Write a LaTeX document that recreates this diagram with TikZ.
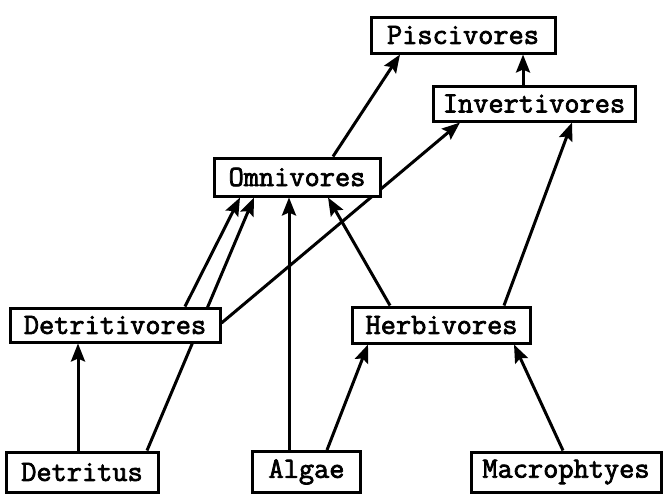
\documentclass[tikz,border=0pt]{standalone}
\usepackage{fontspec}
\newfontfamily\boxfont[FakeBold=2.5]{Latin Modern Mono}
\usetikzlibrary{arrows.meta,backgrounds}
\begin{document}
\begin{tikzpicture}[x=1pt,y=-1pt,
  box/.style={draw, line width=3pt, fill=white, inner sep=0pt,
    font=\fontsize{29.5}{31}\selectfont\boxfont},
  link/.style={line width=3pt, -{Stealth[length=18pt,width=14pt,inset=3pt]}}]
\useasboundingbox (0,0) rectangle (663,496);
\node[box, minimum width=184pt, minimum height=36pt] (pisc) at (463,35) {Piscivores};
\node[box, minimum width=202pt, minimum height=35pt] (inv) at (534,103.5) {Invertivores};
\node[box, minimum width=166pt, minimum height=38pt] (omni) at (297,177) {Omnivores};
\node[box, minimum width=210pt, minimum height=34pt] (detv) at (115,325) {Detritivores};
\node[box, minimum width=178pt, minimum height=36pt] (herb) at (441.5,325) {Herbivores};
\node[box, minimum width=152pt, minimum height=40pt] (detr) at (82,472) {Detritus};
\node[box, minimum width=108pt, minimum height=41pt] (algae) at (306.5,472) {Algae};
\node[box, minimum width=190pt, minimum height=40pt] (macro) at (566,472) {Macrophtyes};
\begin{scope}[on background layer]
\draw[link] (78,0 |- detr.north) -- (78,0 |- detv.south);
\draw[link] (147,0 |- detr.north) -- (254,0 |- omni.south);
\draw[link] (185,0 |- detv.north) -- (240,0 |- omni.south);
\draw[link] (289,0 |- algae.north) -- (289,0 |- omni.south);
\draw[link] (390,0 |- herb.north) -- (328,0 |- omni.south);
\draw[link] (327,0 |- algae.north) -- (368,0 |- herb.south);
\draw[link] (563,0 |- macro.north) -- (514,0 |- herb.south);
\draw[link] (504,0 |- herb.north) -- (572,0 |- inv.south);
\draw[link] ([yshift=2pt]detv.east) -- (460,0 |- inv.south);
\draw[link] (333,0 |- omni.north) -- (400,0 |- pisc.south);
\draw[link] (523,0 |- inv.north) -- (523,0 |- pisc.south);
\end{scope}
\end{tikzpicture}
\end{document}
